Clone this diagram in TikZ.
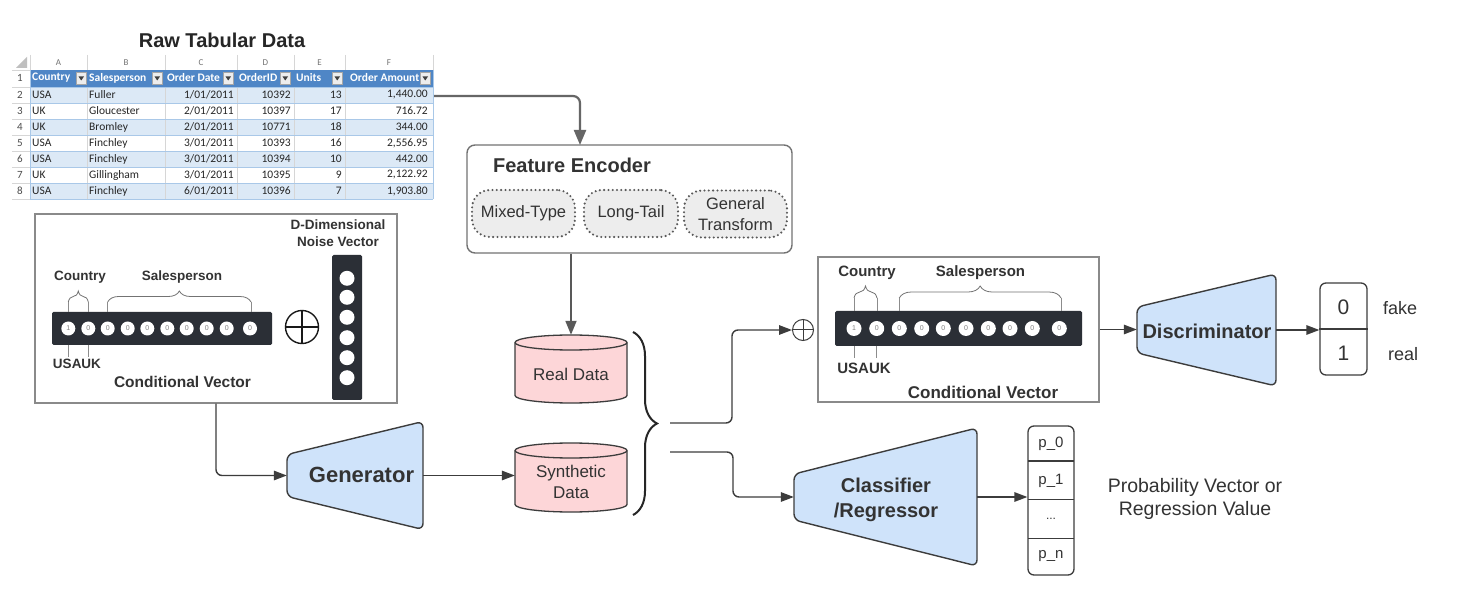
\documentclass[tikz,border=0pt]{standalone}
\usepackage{fontspec}
\setmainfont{Liberation Sans}
\newfontfamily\calib{Carlito}
\usetikzlibrary{arrows.meta,decorations.pathreplacing,calc}
\definecolor{lncol}{HTML}{3C3C3C}
\definecolor{trapfill}{HTML}{CFE3FA}
\definecolor{cylfill}{HTML}{FDD6D8}
\definecolor{barcol}{HTML}{2B2F36}
\definecolor{hdrblue}{HTML}{4F86C6}
\definecolor{bandblue}{HTML}{DCE9F6}
\definecolor{rowline}{HTML}{A9C8E8}
\definecolor{gridgray}{HTML}{D6D6D6}
\definecolor{txtcol}{HTML}{333333}
\definecolor{boxgray}{HTML}{8A8A8A}
\definecolor{dotfill}{HTML}{EDEDED}
\definecolor{arrgray}{HTML}{666666}
\newcommand\myfs[2]{\fontsize{#1pt}{#2pt}\selectfont}
\newcommand\mytrap[5]{\draw[trapstyle] ({#1-#3},{#2-#4}) -- ({#1+#3},{#2-#5}) -- ({#1+#3},{#2+#5}) -- ({#1-#3},{#2+#4}) -- cycle;}
\newcommand\mycyl[4]{%
 \draw[cylstyle] ({#1-#4},#2) -- ({#1-#4},#3) arc[start angle=180,end angle=360,x radius=#4pt,y radius=7.5pt] -- ({#1+#4},#2) arc[start angle=0,end angle=180,x radius=#4pt,y radius=7.5pt] -- cycle;
 \draw[cylstyle,fill=none] ({#1-#4},#2) arc[start angle=180,end angle=360,x radius=#4pt,y radius=7.5pt];}
\begin{document}
\begin{tikzpicture}[x=1pt,y=-1pt,
 lbl/.style={inner sep=0pt, text=txtcol},
 collet/.style={inner sep=0pt, text=black!55, font=\calib\myfs{9}{10}},
 rownum/.style={inner sep=0pt, text=black!70, font=\calib\myfs{11}{12}},
 cellL/.style={inner sep=0pt, anchor=west, text=black!85, font=\calib\myfs{11.5}{13}},
 cellR/.style={inner sep=0pt, anchor=east, text=black!85, font=\calib\myfs{11.5}{13}},
 hdr/.style={inner sep=0pt, anchor=west, text=white, font=\calib\bfseries\myfs{11.5}{13}},
 ln/.style={draw=lncol, line width=1.4pt, rounded corners=6pt},
 arr/.style={ln, -{Triangle[length=13pt,width=9.5pt]}},
 trapstyle/.style={draw=lncol, fill=trapfill, line width=1.4pt, rounded corners=6pt},
 cylstyle/.style={draw=lncol, fill=cylfill, line width=1.3pt},
 ghost/.style={inner sep=0pt, draw=none},
 bar/.style={fill=barcol, draw=none, inner sep=0pt, rounded corners=1.5pt},
 bitc/.style={circle, fill=white, inner sep=0pt, minimum size=14pt, text=black!50, font=\myfs{7}{8}},
 noisec/.style={circle, fill=white, inner sep=0pt, minimum size=15pt},
 smallbrace/.style={draw=black!55, line width=0.8pt, decorate, decoration={brace, amplitude=11pt}},
 tick/.style={draw=black!45, line width=0.8pt},
 condbox/.style={draw=boxgray, line width=1.2pt, inner sep=0pt},
 febox/.style={draw=black!55, line width=1.4pt, rounded corners=8pt, inner sep=0pt},
 dotbox/.style={draw=black!65, line width=2.3pt, dash pattern=on 0pt off 4.3pt, line cap=round, fill=dotfill, rounded corners=18pt, minimum height=47pt, inner sep=0pt, text=txtcol, font=\myfs{16.5}{21.5}},
 outbox/.style={draw=lncol, line width=1.3pt, rounded corners=6pt, inner sep=0pt}
]
\fill[white] (0,0) rectangle (1470,593);
\useasboundingbox (0,0) rectangle (1470,593);

% ---------------- Raw tabular data ----------------
\node[inner sep=0pt, text=black!85, font=\myfs{20}{24}\bfseries] (title) at (222,40) {Raw Tabular Data};
\fill[black!25] (27,57) -- (27,68) -- (16,68) -- cycle;
\foreach \xx in {30,87,165,237,294,345,433} \draw[gridgray, line width=0.6pt] (\xx,55) -- (\xx,70);
\draw[gridgray, line width=0.6pt] (12,70) -- (433,70);
\foreach \cx/\L [count=\i] in {58.5/A,126/B,201/C,265.5/D,319.5/E,389/F}
  \node[collet] (col\i) at (\cx,63) {\L};
\fill[hdrblue] (30,70) rectangle (433,87);
\foreach \r in {0,2,4,6} \fill[bandblue] (30,{87+16*\r}) rectangle (433,{103+16*\r});
\foreach \xx in {87,165,237,294,345} \draw[gridgray, line width=0.5pt] (\xx,87) -- (\xx,199);
\foreach \yy in {87,103,...,199} \draw[rowline, line width=0.7pt] (30,\yy) -- (433,\yy);
\foreach \yy in {87,103,...,199} \draw[gridgray, line width=0.5pt] (12,\yy) -- (30,\yy);
\draw[rowline, line width=0.7pt] (30,70) -- (30,199) (433,70) -- (433,199);
\node[rownum] (rn1) at (20,78) {1};
\node[hdr] (h1) at (32,78) {Country};
\node[hdr] (h2) at (89,78) {Salesperson};
\node[hdr] (h3) at (167,78) {Order Date};
\node[hdr] (h4) at (239,78) {OrderID};
\node[hdr] (h5) at (296,78) {Units};
\node[hdr] (h6) at (350,78) {Order Amount};
\foreach \rr [count=\i] in {86,162,233,290,342,430}{
  \fill[white!93!black] ({\rr-9.5},72) rectangle (\rr,84);
  \draw[black!35, line width=0.5pt] ({\rr-9.5},72) rectangle (\rr,84);
  \fill[black!75] ({\rr-7.5},76.5) -- ({\rr-2},76.5) -- ({\rr-4.75},80.5) -- cycle;
}
\foreach \n/\yy/\va/\vb/\vc/\vd/\ve/\vf in {
  2/95/USA/Fuller/{1/01/2011}/10392/13/{1,440.00},
  3/111/UK/Gloucester/{2/01/2011}/10397/17/{716.72},
  4/127/UK/Bromley/{2/01/2011}/10771/18/{344.00},
  5/143/USA/Finchley/{3/01/2011}/10393/16/{2,556.95},
  6/159/USA/Finchley/{3/01/2011}/10394/10/{442.00},
  7/175/UK/Gillingham/{3/01/2011}/10395/9/{2,122.92},
  8/191/USA/Finchley/{6/01/2011}/10396/7/{1,903.80}}{
  \node[rownum] (rn\n) at (20,\yy) {\n};
  \node[cellL] (ca\n) at (32,\yy) {\va};
  \node[cellL] (cb\n) at (89,\yy) {\vb};
  \node[cellR] (cc\n) at (234,\yy) {\vc};
  \node[cellR] (cd\n) at (291,\yy) {\vd};
  \node[cellR] (ce\n) at (342,\yy) {\ve};
  \node[cellR] (cf\n) at (428,\yy) {\vf};
}
\coordinate (tblout) at (434,96);

% ---------------- Feature encoder ----------------
\node[febox, minimum width=325pt, minimum height=108pt] (fe) at (629.5,199) {};
\node[lbl, font=\myfs{20}{24}\bfseries] (fet) at (572,165) {Feature Encoder};
\node[dotbox, minimum width=103pt] (mix) at (523.5,213.5) {Mixed-Type};
\node[dotbox, minimum width=94pt] (lt) at (631,213.5) {Long-Tail};
\node[dotbox, minimum width=103pt, align=center] (gt) at (735.5,214) {General\\Transform};
\coordinate (fein) at (580,145);
\draw[draw=arrgray, line width=2.2pt, rounded corners=7pt, -{Triangle[length=15pt,width=12pt]}] (tblout) -| (fein);

% ---------------- Data stores ----------------
\mycyl{571}{342.5}{395.5}{56}
\node[ghost, minimum width=112pt, minimum height=68pt] (real) at (571,369) {};
\node[lbl, font=\myfs{17}{21}] (realt) at (571,374) {Real Data};
\mycyl{571}{450.5}{504.5}{56}
\node[ghost, minimum width=112pt, minimum height=69pt] (syn) at (571,477.5) {};
\node[lbl, align=center, font=\myfs{17}{21}] (synt) at (571,481.5) {Synthetic\\Data};
\draw[draw=black!65, line width=1.8pt, -{Triangle[length=14pt,width=11pt]}] (real.north |- fe.south) -- (real.north);
\draw[draw=black!85, line width=2pt, decorate, decoration={brace, amplitude=24pt}] (633,332) -- (633,515);
\coordinate (br1) at (670,423);
\coordinate (br2) at (670,452);

% ---------------- Left conditional vector ----------------
\node[condbox, minimum width=362pt, minimum height=189pt] (condL) at (216,308.5) {};
\node[bar, minimum width=220pt, minimum height=33pt] (barL) at (162,328.5) {};
\foreach \cx/\v [count=\i] in {68.3/1,88.3/0,107.7/0,127.7/0,147.3/0,167.3/0,186.7/0,206.7/0,226.7/0,250/0}
  \node[bitc] (lb\i) at (\cx,328.5) {\v};
\draw[smallbrace] (68.3,302) -- (88.3,302);
\draw[smallbrace] (107.7,302) -- (251,302);
\draw[tick] (68.3,302) -- (68.3,312) (88.3,302) -- (88.3,312) (107.7,302) -- (107.7,312) (251,302) -- (251,312);
\draw[tick] (68.3,345) -- (68.3,357) (88.3,345) -- (88.3,357);
\node[lbl, font=\myfs{13.5}{16}\bfseries] (cntL) at (80,277) {Country};
\node[lbl, font=\myfs{13.5}{16}\bfseries] (slsL) at (182,277) {Salesperson};
\node[lbl, font=\myfs{13.5}{16}\bfseries] (usaL) at (77,364) {USAUK};
\node[lbl, font=\myfs{15.5}{18}\bfseries] (cvL) at (182.5,382) {Conditional Vector};
\node[circle, draw=black!90, line width=1.4pt, minimum size=33pt, inner sep=0pt] (opL) at (302,327) {};
\draw[black!90, line width=1.4pt] (opL.north) -- (opL.south) (opL.west) -- (opL.east);
\node[bar, minimum width=30pt, minimum height=145pt] (noise) at (347,327.5) {};
\foreach \cy [count=\i] in {278.3,297.3,317.3,337.7,357.7,377.7}
  \node[noisec] (nz\i) at (347,\cy) {};
\node[lbl, align=center, font=\myfs{13.5}{17}\bfseries] (nzt) at (338,233.5) {D-Dimensional\\Noise Vector};

% ---------------- Generator ----------------
\mytrap{355}{475.5}{68}{21}{54}
\node[ghost, minimum width=136pt, minimum height=108pt] (gen) at (355,475.5) {};
\node[lbl, font=\myfs{22}{26}\bfseries] (gent) at (361.5,475) {Generator};
\draw[arr] (condL.south) |- (gen.west);
\draw[arr] (gen.east) -- (gen.east -| syn.west);

% ---------------- Right conditional vector ----------------
\node[condbox, minimum width=281pt, minimum height=145pt] (condR) at (958.5,329.5) {};
\node[bar, minimum width=247pt, minimum height=35pt] (barR) at (958.5,328.5) {};
\foreach \cx/\v [count=\i] in {854/1,876.7/0,899.3/0,921.7/0,943.3/0,966/0,988.3/0,1010/0,1032.3/0,1059.3/0}
  \node[bitc, minimum size=15pt] (rb\i) at (\cx,328.5) {\v};
\draw[smallbrace, decoration={brace, amplitude=12pt}] (854,298) -- (877,298);
\draw[smallbrace, decoration={brace, amplitude=12pt}] (899.3,298) -- (1061,298);
\draw[tick] (854,298) -- (854,311) (877,298) -- (877,311) (899.3,298) -- (899.3,311) (1061,298) -- (1061,311);
\draw[tick] (854,346) -- (854,358) (876.7,346) -- (876.7,358);
\node[lbl, font=\myfs{15}{18}\bfseries] (cntR) at (867,273) {Country};
\node[lbl, font=\myfs{15}{18}\bfseries] (slsR) at (980.5,273) {Salesperson};
\node[lbl, font=\myfs{15}{18}\bfseries] (usaR) at (864,368) {USAUK};
\node[lbl, font=\myfs{17}{20}\bfseries] (cvR) at (983,392) {Conditional Vector};
\node[circle, draw=lncol, line width=1pt, minimum size=21pt, inner sep=0pt] (opR) at (803,330) {};
\draw[lncol, line width=1pt] (opR.north) -- (opR.south) (opR.west) -- (opR.east);
\draw[arr] (br1) -- (732,423) |- (opR.west);

% ---------------- Discriminator ----------------
\mytrap{1206.5}{330}{69.5}{23}{56}
\node[ghost, minimum width=139pt, minimum height=112pt] (disc) at (1206.5,330) {};
\node[lbl, font=\myfs{20}{24}\bfseries] (disct) at (1207,331) {Discriminator};
\draw[arr] (condR.east) -- (condR.east -| disc.west);
\node[outbox, minimum width=47pt, minimum height=92pt] (out) at (1343.5,329) {};
\draw[lncol, line width=1.3pt] (out.west) -- (out.east);
\draw[arr] (disc.east) -- (disc.east -| out.west);
\node[lbl, font=\myfs{21}{24}] (o0) at (1343.5,307) {0};
\node[lbl, font=\myfs{21}{24}] (o1) at (1343.5,353) {1};
\node[lbl, font=\myfs{18}{21}] (fake) at (1400,308) {fake};
\node[lbl, font=\myfs{18}{21}] (realw) at (1403,354) {real};

% ---------------- Classifier ----------------
\mytrap{885.5}{497}{91.5}{23}{69}
\node[ghost, minimum width=183pt, minimum height=138pt] (clf) at (885.5,497) {};
\node[lbl, align=center, font=\myfs{20}{25}\bfseries] (clft) at (886,499.5) {Classifier\\/Regressor};
\draw[arr] (br2) -- (733,452) |- (clf.west);
\node[outbox, minimum width=46pt, minimum height=149pt] (pbox) at (1051,500.5) {};
\draw[lncol, line width=1.3pt] (1028,461) -- (1074,461) (1028,499.3) -- (1074,499.3) (1028,538.3) -- (1074,538.3);
\draw[arr] (clf.east) -- (clf.east -| pbox.west);
\node[lbl, font=\myfs{15}{18}] (p0) at (1051,443.5) {p\_0};
\node[lbl, font=\myfs{15}{18}] (p1) at (1051,481) {p\_1};
\node[lbl, font=\myfs{12}{14}] (pd) at (1051,519) {...};
\node[lbl, font=\myfs{15}{18}] (pn) at (1051,556.5) {p\_n};
\node[lbl, align=center, font=\myfs{19.5}{23}] (probt) at (1195,498.5) {Probability Vector or\\Regression Value};
\end{tikzpicture}
\end{document}
